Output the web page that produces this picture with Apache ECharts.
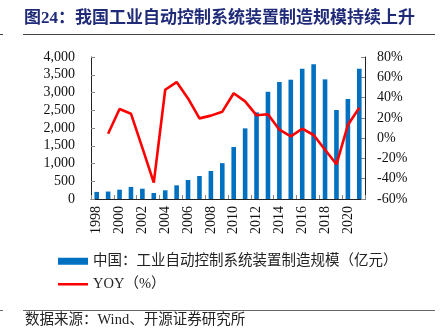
<!DOCTYPE html>
<html>
<head>
<meta charset="utf-8">
<script src="https://cdn.jsdelivr.net/npm/echarts@6/dist/echarts.min.js"></script>
<style>
html,body{margin:0;padding:0;background:#fff;}
#c{width:445px;height:333px;}
</style>
</head>
<body>
<div id="c"></div>
<script>
const years = ['1998','1999','2000','2001','2002','2003','2004','2005','2006','2007','2008','2009','2010','2011','2012','2013','2014','2015','2016','2017','2018','2019','2020','2021'];
const scale = [200,210,263,340,290,170,245,385,535,648,789,1010,1465,1990,2440,3020,3295,3360,3670,3795,3370,2507,2817,3671];
const yoy = [null,4.4,28.7,24.1,-9.6,-43.8,47.7,55.3,39.2,19.5,22.2,26.1,44.2,36.2,22.5,23.5,8.3,1.8,9.3,3.1,-11.4,-25.8,12.9,30.0];
const barName = '中国：工业自动控制系统装置制造规模（亿元）';
const lineName = 'YOY（%）';
const titleText = '图24：我国工业自动控制系统装置制造规模持续上升';
const sourceText = '数据来源：Wind、开源证券研究所';

const FONT = '"Liberation Serif", "Noto Sans CJK SC", serif';
const chart = echarts.init(document.getElementById('c'), null, {renderer: 'canvas'});
chart.setOption({
  animation: false,
  backgroundColor: '#fff',
  title: {
    text: titleText,
    left: 24, top: 10, padding: 0,
    textStyle: {fontFamily: FONT, fontSize: 17, fontWeight: 'bold', color: '#1F2A78'}
  },
  legend: [
    {data: [{name: barName, icon: 'rect'}], left: 58, top: 254, padding: 0,
     itemWidth: 30, itemHeight: 7, itemGap: 5,
     textStyle: {fontFamily: FONT, fontSize: 14.5, color: '#222'}},
    {data: [{name: lineName, icon: 'rect'}], left: 58, top: 277, padding: 0,
     itemWidth: 30, itemHeight: 2.5, itemGap: 5,
     textStyle: {fontFamily: FONT, fontSize: 14.5, color: '#222'}}
  ],
  grid: {left: 91, right: 80, top: 57, bottom: 134, containLabel: false},
  xAxis: {
    type: 'category', data: years, boundaryGap: true,
    axisLine: {lineStyle: {color: '#222', width: 1}},
    axisTick: {show: true, inside: true, length: 4, interval: 1, lineStyle: {color: '#888'}},
    axisLabel: {interval: 1, rotate: 90, margin: 7, fontFamily: FONT, fontSize: 14, color: '#111'}
  },
  yAxis: [
    {type: 'value', min: 0, max: 4000, interval: 500,
     splitLine: {show: false},
     axisLine: {show: true, lineStyle: {color: '#222'}},
     axisTick: {show: true, inside: true, length: 4, lineStyle: {color: '#888'}},
     axisLabel: {margin: 16, fontFamily: FONT, fontSize: 14, color: '#111',
       formatter: v => v.toLocaleString('en-US')}},
    {type: 'value', min: -60, max: 80, interval: 20,
     splitLine: {show: false},
     axisLine: {show: true, lineStyle: {color: '#222'}},
     axisTick: {show: true, inside: true, length: 4, lineStyle: {color: '#888'}},
     axisLabel: {margin: 12, fontFamily: FONT, fontSize: 14, color: '#111', formatter: '{value}%'}}
  ],
  series: [
    {name: barName, type: 'bar', data: scale, yAxisIndex: 0, barWidth: 4.6,
     itemStyle: {color: '#0070C0'}},
    {name: lineName, type: 'line', data: yoy, yAxisIndex: 1, symbol: 'none', showSymbol: false,
     lineStyle: {color: '#FF0000', width: 2.6}, itemStyle: {color: '#FF0000'}}
  ],
  graphic: [
    {type: 'line', shape: {x1: 23, y1: 34.5, x2: 435, y2: 34.5}, style: {stroke: '#444', lineWidth: 1}},
    {type: 'line', shape: {x1: 0, y1: 34.5, x2: 3, y2: 34.5}, style: {stroke: '#444', lineWidth: 1}},
    {type: 'line', shape: {x1: 23, y1: 310.5, x2: 435, y2: 310.5}, style: {stroke: '#666', lineWidth: 1}},
    {type: 'line', shape: {x1: 0, y1: 310.5, x2: 3, y2: 310.5}, style: {stroke: '#666', lineWidth: 1}},
    {type: 'text', left: 25, top: 313, style: {text: sourceText, fontFamily: FONT, fontSize: 14.5, fill: '#222'}}
  ]
});
</script>
</body>
</html>
